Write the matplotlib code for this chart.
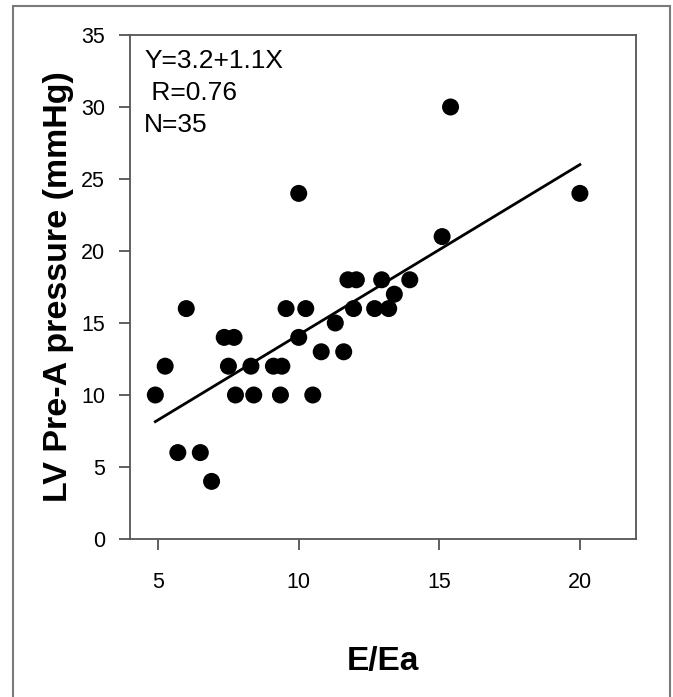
import matplotlib
matplotlib.use("Agg")
import matplotlib.pyplot as plt
from matplotlib.patches import Rectangle

# values
ea_ratio = [4.9, 5.25, 6.0, 5.7, 6.5, 6.9, 7.35, 7.7, 7.5, 7.75, 8.3, 8.4,
            9.1, 9.4, 9.35, 9.55, 10.25, 10.0, 10.5, 10.8, 11.3, 11.6,
            11.95, 12.7, 13.2, 13.4, 11.75, 12.05, 12.95, 13.95, 15.1,
            15.4, 20.0, 10.0]
pre_a = [10, 12, 16, 6, 6, 4, 14, 14, 12, 10, 12, 10,
         12, 12, 10, 16, 16, 14, 10, 13, 15, 13,
         16, 16, 16, 17, 18, 18, 18, 18, 21,
         30, 24, 24]
fit_x = [4.9, 20.0]
fit_y = [8.15, 26.0]
stats_lines = ["Y=3.2+1.1X", " R=0.76", "N=35"]
x_ticks = [5, 10, 15, 20]
y_ticks = [0, 5, 10, 15, 20, 25, 30, 35]

plt.rcParams["font.family"] = ["Liberation Sans", "DejaVu Sans"]

fig = plt.figure(figsize=(6.73, 6.97), dpi=100)
fig.add_artist(Rectangle((13 / 673, -0.05), (670 - 13) / 673, 1.05 - 6 / 697,
                         transform=fig.transFigure, fill=False,
                         edgecolor="#7a7a7a", lw=1.5))

ax = fig.add_axes([0.1932, 0.2267, 0.752, 0.7231])
ax.scatter(ea_ratio, pre_a, s=150, color="black", edgecolors="none", zorder=3)
ax.plot(fit_x, fit_y, color="black", lw=2.0, zorder=2)

ax.set_xlim(4, 22)
ax.set_ylim(0, 35)
ax.set_xticks(x_ticks)
ax.set_yticks(y_ticks)
ax.tick_params(axis="both", direction="out", length=8, width=1.2,
               color="#444444", labelsize=15.5)
ax.tick_params(axis="y", pad=10)
ax.tick_params(axis="x", pad=16)
for side in ["left", "right", "top", "bottom"]:
    ax.spines[side].set_color("#555555")
    ax.spines[side].set_linewidth(1.3)

ax.set_ylabel("LV Pre-A pressure (mmHg)", fontsize=24.5, fontweight="bold",
              labelpad=5)
ax.set_xlabel("E/Ea", fontsize=24, fontweight="bold", labelpad=38)

ax.text(0.028, 0.972, "\n".join(stats_lines), transform=ax.transAxes,
        fontsize=19, va="top", ha="left", linespacing=1.42)

fig.savefig("out.png", dpi=100)
plt.close(fig)
